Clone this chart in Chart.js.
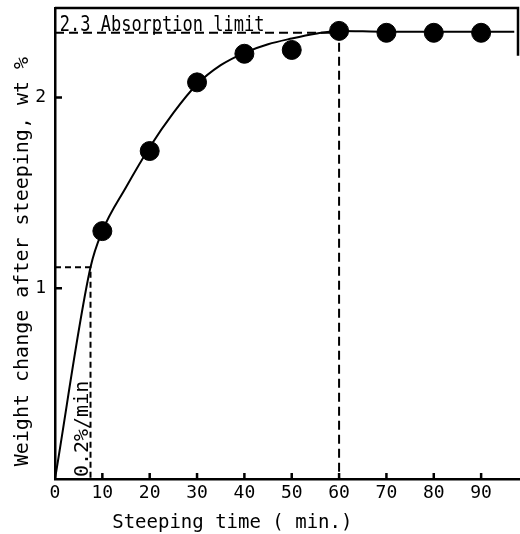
<!DOCTYPE html>
<html>
<head>
<meta charset="utf-8">
<script src="https://cdn.jsdelivr.net/npm/chart.js@4.4.0/dist/chart.umd.min.js"></script>
<style>
html, body { margin: 0; padding: 0; background: #fff; overflow: hidden; }
#wrap { width: 520px; height: 534px; position: relative; }
#myChart { display: block; }
</style>
</head>
<body>
<div id="wrap"><canvas id="myChart"></canvas></div>
<script>
// measured points
const timeMin = [10, 20, 30, 40, 50, 60, 70, 80, 90]
const weightChange = [1.30, 1.72, 2.08, 2.23, 2.25, 2.35, 2.34, 2.34, 2.34]

// hand drawn fitted curve
const curveTime = [0, 7.5, 10, 15, 20, 25, 30, 35, 40, 45, 50, 55, 60, 70, 80, 90, 97]
const curveWeight = [0, 1.11, 1.30, 1.53, 1.74, 1.92, 2.07, 2.17, 2.235, 2.28, 2.31, 2.335, 2.35, 2.345, 2.345, 2.345, 2.345]

// dashed guide lines
const limitX = [0, 60, 60]
const limitY = [2.34, 2.34, 0]
const rateX = [0, 7.5, 7.5]
const rateY = [1.11, 1.11, 0]

const xTicks = [0, 10, 20, 30, 40, 50, 60, 70, 80, 90]
const yTicks = [0, 1, 2]

const toPts = (xs, ys) => xs.map((x, i) => ({ x: x, y: ys[i] }))

const mono = 'DejaVu Sans Mono'

const textPlugin = {
    id: 'notes',
    afterDraw(chart) {
        const ctx = chart.ctx
        const xs = chart.scales.x
        const ys = chart.scales.y
        const area = chart.chartArea
        ctx.save()
        ctx.strokeStyle = '#000'
        ctx.lineWidth = 2.5
        ctx.beginPath()
        // top frame, and the bit of right frame that shows
        ctx.moveTo(area.left, area.top)
        ctx.lineTo(area.right - 1, area.top)
        ctx.lineTo(area.right - 1, ys.getPixelForValue(2.22))
        // inward tick marks
        xTicks.forEach((v) => {
            if (v === 0) return
            const px = xs.getPixelForValue(v)
            ctx.moveTo(px, area.bottom)
            ctx.lineTo(px, area.bottom - 6)
        })
        yTicks.forEach((v) => {
            if (v === 0) return
            const py = ys.getPixelForValue(v)
            ctx.moveTo(area.left, py)
            ctx.lineTo(area.left + 7, py)
        })
        ctx.stroke()

        ctx.fillStyle = '#000'
        ctx.textBaseline = 'alphabetic'
        ctx.textAlign = 'left'
        ctx.save()
        ctx.translate(xs.getPixelForValue(1), ys.getPixelForValue(2.35))
        ctx.scale(1, 1.25)
        ctx.font = '17px ' + mono
        ctx.fillText('2.3 Absorption limit', 0, 0)
        ctx.restore()

        ctx.translate(xs.getPixelForValue(7.0), ys.getPixelForValue(0.01))
        ctx.rotate(-Math.PI / 2)
        ctx.font = '20px ' + mono
        ctx.fillText('0.2%/min', 0, 0)
        ctx.restore()
    }
}

const ctx = document.getElementById('myChart')
new Chart(ctx, {
    type: 'scatter',
    data: {
        datasets: [{
            data: toPts(timeMin, weightChange),
            backgroundColor: '#000',
            borderColor: '#000',
            pointRadius: 9.5,
            showLine: false
        }, {
            data: toPts(curveTime, curveWeight),
            borderColor: '#000',
            borderWidth: 2,
            pointRadius: 0,
            showLine: true,
            cubicInterpolationMode: 'monotone'
        }, {
            data: toPts(limitX, limitY),
            borderColor: '#000',
            borderWidth: 2,
            borderDash: [9, 5],
            pointRadius: 0,
            showLine: true
        }, {
            data: toPts(rateX, rateY),
            borderColor: '#000',
            borderWidth: 2,
            borderDash: [6, 4],
            pointRadius: 0,
            showLine: true
        }]
    },
    options: {
        responsive: true,
        maintainAspectRatio: false,
        animation: false,
        layout: { autoPadding: false, padding: { top: 8, right: 1, left: 0, bottom: 0 } },
        plugins: {
            legend: { display: false },
            tooltip: { enabled: false }
        },
        scales: {
            x: {
                type: 'linear',
                min: 0,
                max: 98,
                afterBuildTicks: (s) => { s.ticks = xTicks.map(v => ({ value: v })) },
                afterFit: (s) => { s.height = 55; s.paddingLeft = 0; s.paddingRight = 0 },
                grid: { drawOnChartArea: false, drawTicks: false },
                border: { color: '#000', width: 2.5 },
                ticks: { color: '#000', font: { family: mono, size: 18 }, padding: 4, maxRotation: 0 },
                title: { display: true, align: 'start', text: '     Steeping time ( min.)', color: '#000', font: { family: mono, size: 19 }, padding: { top: 0, bottom: 0 } }
            },
            y: {
                type: 'linear',
                min: 0,
                max: 2.47,
                afterBuildTicks: (s) => { s.ticks = yTicks.map(v => ({ value: v })) },
                afterFit: (s) => { s.width = 55; s.paddingTop = 0; s.paddingBottom = 0 },
                grid: { drawOnChartArea: false, drawTicks: false },
                border: { color: '#000', width: 2.5 },
                ticks: { color: '#000', font: { family: mono, size: 18 }, padding: 9, callback: (v) => v === 0 ? '' : v },
                title: { display: true, text: 'Weight change after steeping, wt %   ', color: '#000', font: { family: mono, size: 20 }, padding: { top: 11, bottom: 0 } }
            }
        }
    },
    plugins: [textPlugin]
})
</script>
</body>
</html>
